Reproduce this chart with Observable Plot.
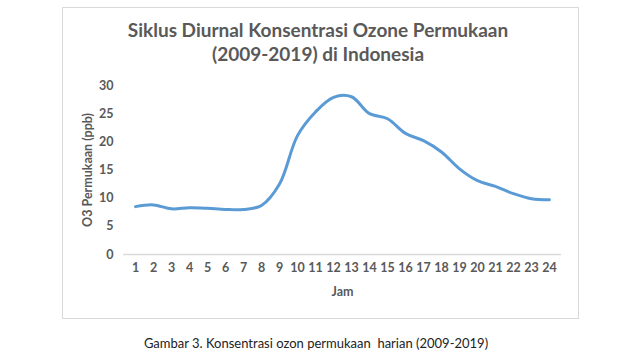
<!DOCTYPE html>
<html><head><meta charset="utf-8">
<script src="https://cdn.jsdelivr.net/npm/d3@7"></script>
<script src="https://cdn.jsdelivr.net/npm/@observablehq/plot@0.6"></script>
<style>
body{margin:0;background:#fff;width:640px;height:360px;overflow:hidden;position:relative;font-family:Lato,"Open Sans",sans-serif;}
#frame{position:absolute;left:62px;top:7px;width:515px;height:310px;border:1px solid #d9d9d9;}
#title{position:absolute;left:0;width:636px;top:18px;text-align:center;font-weight:bold;font-size:19px;line-height:24px;color:#595959;}
#chart{position:absolute;left:0;top:0;}
#caption{position:absolute;left:0;width:632px;top:335px;text-align:center;font-size:13px;color:#222;}
</style></head>
<body>
<div id="frame"></div>
<div id="chart"></div>
<div id="title">Siklus Diurnal Konsentrasi Ozone Permukaan<br>(2009-2019) di Indonesia</div>
<div id="caption">Gambar 3. Konsentrasi ozon permukaan&nbsp; harian (2009-2019)</div>
<script>
const jam = [1,2,3,4,5,6,7,8,9,10,11,12,13,14,15,16,17,18,19,20,21,22,23,24];
const ozon = [8.5,8.8,8.1,8.3,8.2,8.0,8.0,8.7,12.5,21.1,25.3,27.9,28.0,25.0,24.1,21.5,20.2,18.2,15.2,13.1,12.1,10.8,9.9,9.7];
const yTicks = [0,5,10,15,20,25,30];
const data = jam.map((j,i)=>({jam:j, ozon:ozon[i]}));
const chart = Plot.plot({
  width:640, height:320,
  marginLeft:123, marginRight:79, marginTop:85, marginBottom:66,
  style:{fontFamily:"Lato, 'Open Sans', sans-serif", fontSize:"12.5px", fontWeight:"bold", color:"#595959", background:"transparent"},
  x:{type:"point", domain:jam, padding:0.5},
  y:{domain:[0,30]},
  marks:[
    Plot.ruleY([0],{stroke:"#d9d9d9", strokeWidth:1.5}),
    Plot.axisX({tickSize:0, tickPadding:9, label:"Jam", labelAnchor:"center", labelOffset:41, fontWeight:"bold", fontSize:12.5}),
    Plot.axisY({ticks:yTicks, tickSize:0, tickPadding:10, label:"O3 Permukaan (ppb)", labelAnchor:"center", labelOffset:40, labelArrow:"none", fontWeight:"bold", fontSize:12.5}),
    Plot.line(data,{x:"jam", y:"ozon", curve:"catmull-rom", stroke:"#5b9bd5", strokeWidth:3})
  ]
});
document.getElementById("chart").appendChild(chart);
</script>
</body></html>
